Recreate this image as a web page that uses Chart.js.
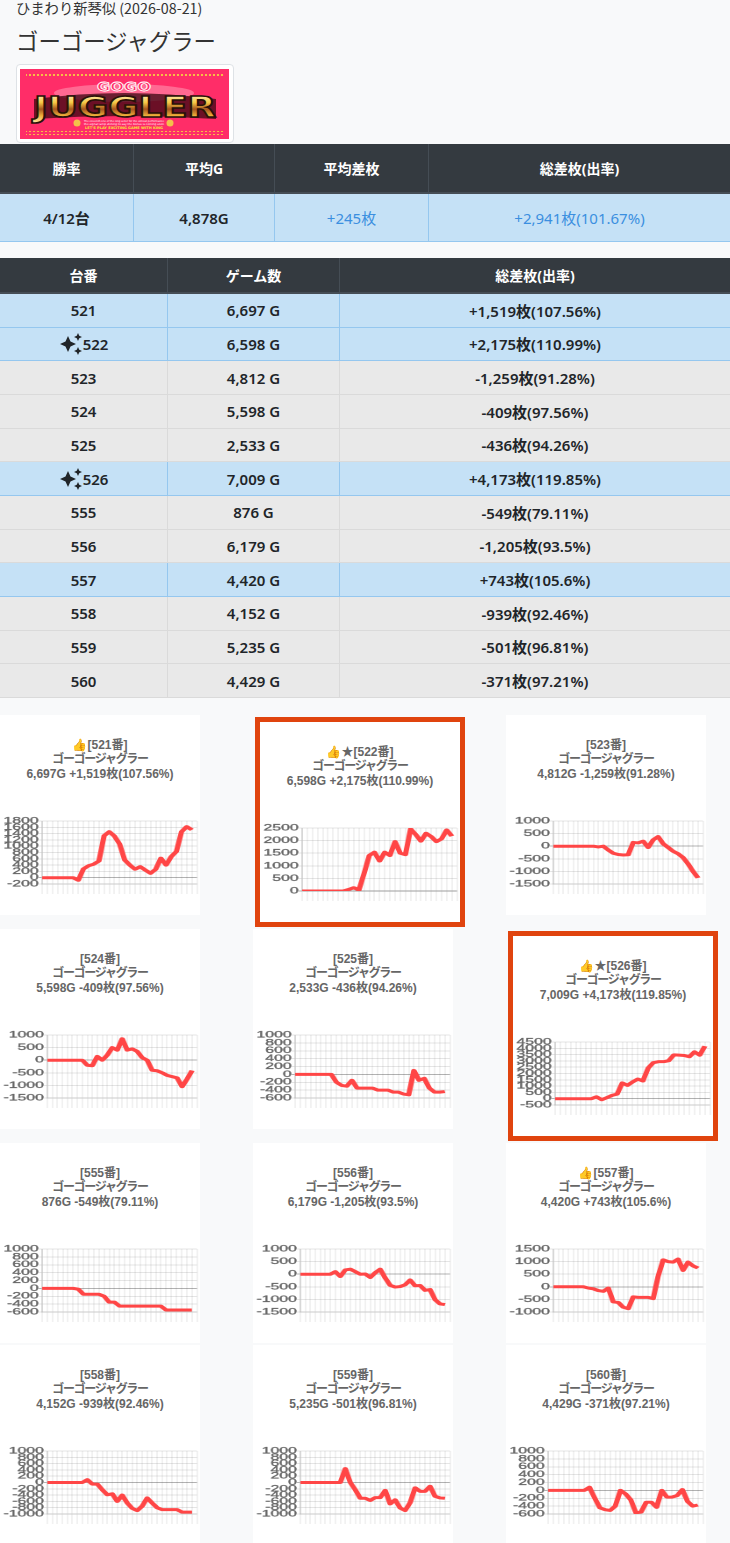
<!DOCTYPE html>
<html lang="ja">
<head>
<meta charset="utf-8">
<title>ゴーゴージャグラー</title>
<script src="https://cdn.jsdelivr.net/npm/chart.js@4.4.1/dist/chart.umd.min.js"></script>
<style>
html,body{margin:0;padding:0;background:#f8f9fa;}
body{width:730px;height:1543px;position:relative;overflow:hidden;font-family:'Noto Sans','Noto Sans CJK JP',sans-serif;color:#212529;}
.store{position:absolute;left:16px;top:0;font:400 14.3px/16px 'Noto Sans CJK JP',sans-serif;color:#333;white-space:nowrap;}
h1{position:absolute;left:16px;top:27px;margin:0;font:400 22.4px/26px 'Noto Sans CJK JP',sans-serif;color:#333;white-space:nowrap;}
.logo{position:absolute;left:16px;top:64px;width:218px;height:79px;box-sizing:border-box;border:1px solid #dee2e6;border-radius:4px;background:#fff;padding:4px 4px 4px 3px;}
.logo svg{display:block;}
.tbl{position:absolute;left:0;width:730px;}
.tr{display:flex;box-sizing:border-box;width:730px;}
.td{box-sizing:border-box;display:flex;align-items:center;justify-content:center;white-space:nowrap;font-size:15px;font-weight:600;}
.th{background:#343a40;color:#fff;font-weight:700;font-size:14px;border-right:1px solid #454d55;}
.thead{border-bottom:2px solid #454d55;}
.blue .td{background:#c5e1f6;border-right:1px solid #95c7ef;}
.blue{border-bottom:1px solid #95c7ef;}
.grey .td{background:#e9e9e9;border-right:1px solid #dadada;}
.grey{border-bottom:1px solid #dadada;}
.pos{color:#3b8fe0;font-weight:400;}
.spark{width:24px;height:24px;display:inline-block;vertical-align:middle;margin-right:0px;}
.card{position:absolute;width:200px;height:200px;background:#fff;box-sizing:border-box;}
.card.feat{width:210px;height:210px;border:5px solid #e0440e;}
.ttl{position:absolute;left:0;top:23px;width:200px;text-align:center;font:700 12px/14.4px 'Liberation Sans',Arial,'Noto Sans CJK JP','Noto Color Emoji',sans-serif;color:#666;white-space:nowrap;}
.ttl .jp{letter-spacing:-1.3px;}
.card canvas{position:absolute;left:0;top:96px;}
</style>
</head>
<body>
<div class="store">ひまわり新琴似 (2026-08-21)</div>
<h1>ゴーゴージャグラー</h1>
<div class="logo">
<svg width="209" height="70" viewBox="0 0 209 70" xmlns="http://www.w3.org/2000/svg">
 <defs>
  <linearGradient id="gold" x1="0" y1="0" x2="0" y2="1">
   <stop offset="0" stop-color="#fffbe6"/>
   <stop offset="0.35" stop-color="#f7c845"/>
   <stop offset="0.55" stop-color="#a5561f"/>
   <stop offset="0.75" stop-color="#f0b03a"/>
   <stop offset="1" stop-color="#fff2b8"/>
  </linearGradient>
  <pattern id="dots" width="4" height="4" patternUnits="userSpaceOnUse"><circle cx="2" cy="2" r="1.1" fill="#f6e23c"/></pattern>
 </defs>
 <rect width="209" height="70" fill="#ff2d68"/>
 <rect x="6" y="4" width="198" height="4" fill="url(#dots)"/>
 <rect x="6" y="62" width="198" height="4" fill="url(#dots)"/>
 <ellipse cx="104" cy="24" rx="70" ry="9" fill="#ffb3c6" opacity="0.45"/>
 <path d="M14 30 Q104 18 196 30 L196 50 Q104 44 14 50 Z" fill="#3a0710" opacity="0.75"/>
 <text x="104" y="22" text-anchor="middle" font-family="DejaVu Sans" font-weight="bold" font-size="12" fill="#ff2d68" stroke="#fff" stroke-width="0.8" textLength="54" lengthAdjust="spacingAndGlyphs">GOGO</text>
 <text x="105" y="48" text-anchor="middle" font-family="DejaVu Sans" font-weight="bold" font-size="28" fill="url(#gold)" stroke="#2a1208" stroke-width="1.6" textLength="182" lengthAdjust="spacingAndGlyphs">JUGGLER</text>
 <text x="104" y="52.5" text-anchor="middle" font-family="DejaVu Sans" font-size="2.6" fill="#fff" textLength="80" lengthAdjust="spacingAndGlyphs">The eleventh one of the long seller for the utmost performance</text>
 <text x="104" y="55.5" text-anchor="middle" font-family="DejaVu Sans" font-size="2.6" fill="#fff" textLength="80" lengthAdjust="spacingAndGlyphs">the signal lamp shining to say the bonus is coming soon</text>
 <text x="104" y="59.5" text-anchor="middle" font-family="DejaVu Sans" font-weight="bold" font-size="3.4" fill="#f6e23c" textLength="78" lengthAdjust="spacingAndGlyphs">LET'S PLAY EXCITING GAME WITH KING</text>
 <circle cx="57" cy="54" r="3.5" fill="#f3c04a"/><circle cx="150" cy="54" r="3.5" fill="#f3c04a"/>
</svg>
</div>
<div id="t1" class="tbl" style="top:144px"></div>
<div id="t2" class="tbl" style="top:258px"></div>
<div id="charts" style="position:absolute;left:0;top:715px;width:730px;"></div>

<script>
// ---------- data ----------
const machines = [521, 522, 523, 524, 525, 526, 555, 556, 557, 558, 559, 560];
const games    = [6697, 6598, 4812, 5598, 2533, 7009, 876, 6179, 4420, 4152, 5235, 4429];
const diffs    = [1519, 2175, -1259, -409, -436, 4173, -549, -1205, 743, -939, -501, -371];
const rates    = ['107.56', '110.99', '91.28', '97.56', '94.26', '119.85', '79.11', '93.5', '105.6', '92.46', '96.81', '97.21'];
const featured = [522, 526];
const totalRate = '101.67';
const machineName = 'ゴーゴージャグラー';

const summaryHeaders = ['勝率', '平均G', '平均差枚', '総差枚(出率)'];
const listHeaders = ['台番', 'ゲーム数', '総差枚(出率)'];

// x-axis labels (hidden)
const xLabels = ['', '', '', '', '', '', '', '', '', '', '', '', '', '', '', '', '', '', '', '', '', '', '', '', '', '', '', '', '', '', ''];

// y-axis tick ranges per machine
const yMin  = [-200, 0, -1500, -1500, -600, -500, -600, -1500, -1000, -1000, -1000, -600];
const yMax  = [1800, 2500, 1000, 1000, 1000, 4500, 1000, 1000, 1500, 1000, 1000, 1000];
const yStep = [200, 500, 500, 500, 200, 500, 200, 500, 500, 200, 200, 200];

// coin difference series per machine
const s521 = [0,0,0,0,0,0,0,-80,280,380,430,530,1330,1460,1320,1070,560,400,270,350,240,140,270,620,400,670,830,1460,1620,1519];
const s522 = [0,0,0,0,0,0,0,0,0,60,130,40,700,1410,1540,1190,1540,1410,1960,1500,1440,2460,2240,1980,2290,2160,1960,2070,2420,2175];
const s523 = [0,0,0,0,0,0,0,0,0,-30,0,-150,-280,-330,-350,-340,150,130,200,-50,250,380,100,-50,-200,-300,-450,-700,-1000,-1259];
const s524 = [0,0,0,0,0,0,0,0,-200,-220,150,0,200,500,400,850,400,450,350,100,0,-400,-420,-500,-600,-650,-700,-1050,-750,-409];
const s525 = [0,0,0,0,0,0,0,0,-200,-280,-300,-150,-350,-350,-350,-350,-400,-400,-400,-450,-450,-500,-520,100,-150,-100,-350,-450,-450,-436];
const s526 = [0,0,0,0,0,0,0,0,150,-80,80,260,360,1250,1060,1330,1560,1410,2420,2860,2940,2940,3020,3480,3460,3430,3330,3720,3460,4173];
const s555 = [0,0,0,0,0,0,0,-20,-150,-150,-150,-150,-200,-350,-350,-450,-450,-450,-450,-450,-450,-450,-450,-450,-550,-550,-550,-550,-550,-549];
const s556 = [0,0,0,0,0,0,0,100,-90,170,200,100,0,10,-130,60,200,-150,-440,-510,-490,-420,-230,-460,-450,-640,-610,-1010,-1180,-1205];
const s557 = [0,0,0,0,0,0,0,-50,-80,-150,-180,-50,-600,-620,-810,-870,-400,-420,-420,-420,-470,420,1070,1000,980,1100,650,980,830,743];
const s558 = [0,0,0,0,0,0,0,0,90,-50,-50,-230,-390,-360,-600,-400,-650,-820,-890,-750,-490,-650,-800,-860,-860,-860,-860,-940,-940,-939];
const s559 = [0,0,0,0,0,0,0,0,0,440,0,-230,-500,-500,-570,-480,-480,-250,-680,-550,-810,-890,-640,-170,-280,-280,-120,-440,-490,-501];
const s560 = [0,0,0,0,0,0,0,0,80,-190,-440,-490,-510,-400,0,-90,-240,-570,-550,-300,-300,-430,0,-170,-170,-130,20,-280,-400,-371];
const seriesList = [s521, s522, s523, s524, s525, s526, s555, s556, s557, s558, s559, s560];

// ---------- helpers ----------
const fmt = n => Math.abs(n).toLocaleString('en-US');
const signed = n => (n >= 0 ? '+' : '-') + fmt(n);
const SPARK = '<svg class="spark" viewBox="0 0 24 24"><path fill="#212529" d="M19 9l1.25-2.75L23 5l-2.75-1.25L19 1l-1.25 2.75L15 5l2.75 1.25L19 9zm-7.5.5L9 4 6.5 9.5 1 12l5.5 2.5L9 20l2.5-5.5L17 12l-5.5-2.5zM19 15l-1.25 2.75L15 19l2.75 1.25L19 23l1.25-2.75L23 19l-2.75-1.25L19 15z"/></svg>';

function row(cells, widths, cls, h) {
  const r = document.createElement('div');
  r.className = 'tr ' + cls;
  r.style.height = h + 'px';
  cells.forEach((c, i) => {
    const d = document.createElement('div');
    d.className = 'td' + (cls === 'thead' ? ' th' : '');
    d.style.width = widths[i] + 'px';
    if (i === widths.length - 1) d.style.borderRight = 'none';
    d.innerHTML = c;
    r.appendChild(d);
  });
  return r;
}

// ---------- summary table ----------
const wins = diffs.filter(d => d > 0).length;
const totalG = games.reduce((a, b) => a + b, 0);
const totalD = diffs.reduce((a, b) => a + b, 0);
const w1 = [134, 141, 154, 301];
const t1 = document.getElementById('t1');
t1.appendChild(row(summaryHeaders, w1, 'thead', 50));
t1.appendChild(row([
  wins + '/' + machines.length + '台',
  Math.round(totalG / machines.length).toLocaleString('en-US') + 'G',
  '<span class="pos">' + signed(Math.round(totalD / machines.length)) + '枚</span>',
  '<span class="pos">' + signed(totalD) + '枚(' + totalRate + '%)</span>'
], w1, 'blue', 48));

// ---------- machine table ----------
const w2 = [168, 172, 390];
const t2 = document.getElementById('t2');
t2.appendChild(row(listHeaders, w2, 'thead', 36));
machines.forEach((m, i) => {
  const feat = featured.includes(m);
  t2.appendChild(row([
    (feat ? SPARK : '') + m,
    games[i].toLocaleString('en-US') + ' G',
    signed(diffs[i]) + '枚(' + rates[i] + '%)'
  ], w2, diffs[i] > 0 ? 'blue' : 'grey', 33.67));
});

// ---------- charts ----------
const colX = [0, 253, 506];
const charts = document.getElementById('charts');
let rowTop = 0;
const SX = 200 / 114;
for (let r = 0; r * 3 < machines.length; r++) {
  let hasFeat = false;
  for (let c = 0; c < 3; c++) {
    const i = r * 3 + c;
    if (i >= machines.length) break;
    const m = machines[i];
    const feat = featured.includes(m);
    if (feat) hasFeat = true;
    const card = document.createElement('div');
    card.className = 'card' + (feat ? ' feat' : '');
    card.style.left = (colX[c] + (feat ? 2 : 0)) + 'px';
    card.style.top = (rowTop + (feat ? 2 : 0)) + 'px';
    const ttl = document.createElement('div');
    ttl.className = 'ttl';
    ttl.innerHTML = (diffs[i] > 0 ? '👍' : '') + (feat ? '★' : '') + '[' + m + '番]<br><span class="jp">' + machineName + '</span><br>' +
      games[i].toLocaleString('en-US') + 'G ' + signed(diffs[i]) + '枚(' + rates[i] + '%)';
    card.appendChild(ttl);
    const cv = document.createElement('canvas');
    cv.width = 114; cv.height = 90;
    cv.style.width = '200px'; cv.style.height = '90px';
    card.appendChild(cv);
    charts.appendChild(card);

    new Chart(cv, {
      type: 'line',
      data: {
        labels: xLabels,
        datasets: [{
          data: seriesList[i],
          borderColor: 'rgb(255,70,70)',
          borderWidth: 3,
          borderJoinStyle: 'round',
          pointRadius: 0,
          fill: false,
          tension: 0
        }]
      },
      options: {
        responsive: false,
        animation: false,
        devicePixelRatio: 2,
        events: [],
        layout: { padding: { top: 10, bottom: 7, left: 2, right: 1.7 } },
        plugins: { legend: { display: false }, title: { display: false }, tooltip: { enabled: false } },
        scales: {
          x: {
            grid: { color: 'rgba(0,0,0,0.1)', lineWidth: 1 / SX, drawTicks: true, tickLength: 10 },
            border: { color: 'rgba(0,0,0,0.12)', width: 1 },
            ticks: { display: false }
          },
          y: {
            min: yMin[i], max: yMax[i],
            ticks: {
              stepSize: yStep[i], autoSkip: false, padding: 0, color: '#666',
              textStrokeColor: '#666', textStrokeWidth: 0.3,
              font: { family: "'Liberation Sans', Arial, sans-serif", size: 9 },
              callback: v => String(v)
            },
            grid: {
              color: ctx => (ctx.tick && ctx.tick.value === 0) ? 'rgba(0,0,0,0.3)' : 'rgba(0,0,0,0.1)',
              lineWidth: 1, tickLength: 2
            },
            border: { color: 'rgba(0,0,0,0.2)', width: 1 / SX }
          }
        }
      }
    });
  }
  rowTop += hasFeat ? 214 : 202;
}
</script>
</body>
</html>
